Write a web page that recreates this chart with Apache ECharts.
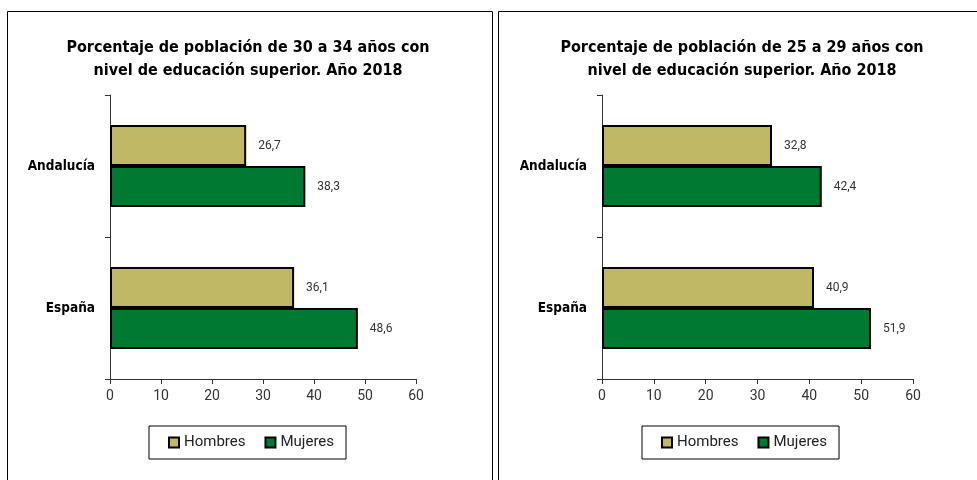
<!DOCTYPE html>
<html>
<head>
<meta charset="utf-8">
<script src="https://cdn.jsdelivr.net/npm/echarts@6/dist/echarts.min.js"></script>
<style>
html,body{margin:0;padding:0;background:#fff;}
#c{width:977px;height:480px;}
</style>
</head>
<body>
<div id="c"></div>
<script>
const categories = ['Andalucía', 'España'];
const seriesNames = ['Hombres', 'Mujeres'];
const hombres3034 = [26.7, 36.1];
const mujeres3034 = [38.3, 48.6];
const hombres2529 = [32.8, 40.9];
const mujeres2529 = [42.4, 51.9];
const xTicks = [0, 10, 20, 30, 40, 50, 60];
const titles = [
  'Porcentaje de población de 30 a 34 años con\nnivel de educación superior. Año 2018',
  'Porcentaje de población de 25 a 29 años con\nnivel de educación superior. Año 2018'
];

const colors = ['#C0B865', '#007A33'];
const boldFont = '"DejaVu Sans Condensed", "DejaVu Sans", sans-serif';
const fmt = p => String(p.value).replace('.', ',');

const chart = echarts.init(document.getElementById('c'));

function xAxis(gi) {
  return {
    type: 'value', gridIndex: gi,
    min: xTicks[0], max: xTicks[xTicks.length - 1], interval: xTicks[1] - xTicks[0],
    splitLine: {show: false},
    axisLine: {show: true, lineStyle: {color: '#333', width: 1}},
    axisTick: {show: true, length: 5, lineStyle: {color: '#333'}},
    axisLabel: {color: '#333', fontSize: 14, fontFamily: 'Roboto', margin: 10}
  };
}
function yAxis(gi) {
  return {
    type: 'category', gridIndex: gi, data: categories, inverse: true,
    axisLine: {show: true, lineStyle: {color: '#333', width: 1}},
    axisTick: {show: true, length: 5, lineStyle: {color: '#333'}},
    axisLabel: {color: '#000', fontSize: 13.5, fontWeight: 'bold', fontFamily: boldFont, margin: 15}
  };
}
function bar(name, data, gi, color) {
  return {
    type: 'bar', name: name, data: data, xAxisIndex: gi, yAxisIndex: gi,
    barWidth: 41, barGap: '0%',
    itemStyle: {color: color, borderColor: '#000', borderWidth: 2},
    label: {show: true, position: 'right', distance: 12, color: '#333', fontSize: 12, fontFamily: 'Roboto', formatter: fmt},
    animation: false
  };
}
function legend(left) {
  return {
    data: seriesNames, left: left, top: 426, orient: 'horizontal',
    icon: 'rect', itemWidth: 10, itemHeight: 10, itemGap: 19,
    padding: [9, 12, 9, 19],
    borderColor: '#000', borderWidth: 1, backgroundColor: '#fff',
    textStyle: {color: '#222', fontSize: 15, fontFamily: 'Roboto'}
  };
}
function title(text, cx) {
  return {
    text: text, left: cx, top: 36, textAlign: 'center', padding: 0,
    textStyle: {fontSize: 16, fontWeight: 'bold', fontFamily: boldFont, color: '#000', lineHeight: 23}
  };
}

chart.setOption({
  animation: false,
  title: [title(titles[0], 248), title(titles[1], 742)],
  legend: [legend(149), legend(642)],
  grid: [
    {left: 110, top: 95, width: 306, height: 284},
    {left: 602, top: 95, width: 311, height: 284}
  ],
  xAxis: [xAxis(0), xAxis(1)],
  yAxis: [yAxis(0), yAxis(1)],
  series: [
    bar(seriesNames[0], hombres3034, 0, colors[0]),
    bar(seriesNames[1], mujeres3034, 0, colors[1]),
    bar(seriesNames[0], hombres2529, 1, colors[0]),
    bar(seriesNames[1], mujeres2529, 1, colors[1])
  ],
  graphic: [
    {type: 'rect', shape: {x: 7.5, y: 11.5, width: 485, height: 480}, style: {fill: 'none', stroke: '#000', lineWidth: 1}, silent: true, z: -1},
    {type: 'rect', shape: {x: 498.5, y: 11.5, width: 490, height: 480}, style: {fill: 'none', stroke: '#000', lineWidth: 1}, silent: true, z: -1}
  ]
});
</script>
</body>
</html>
